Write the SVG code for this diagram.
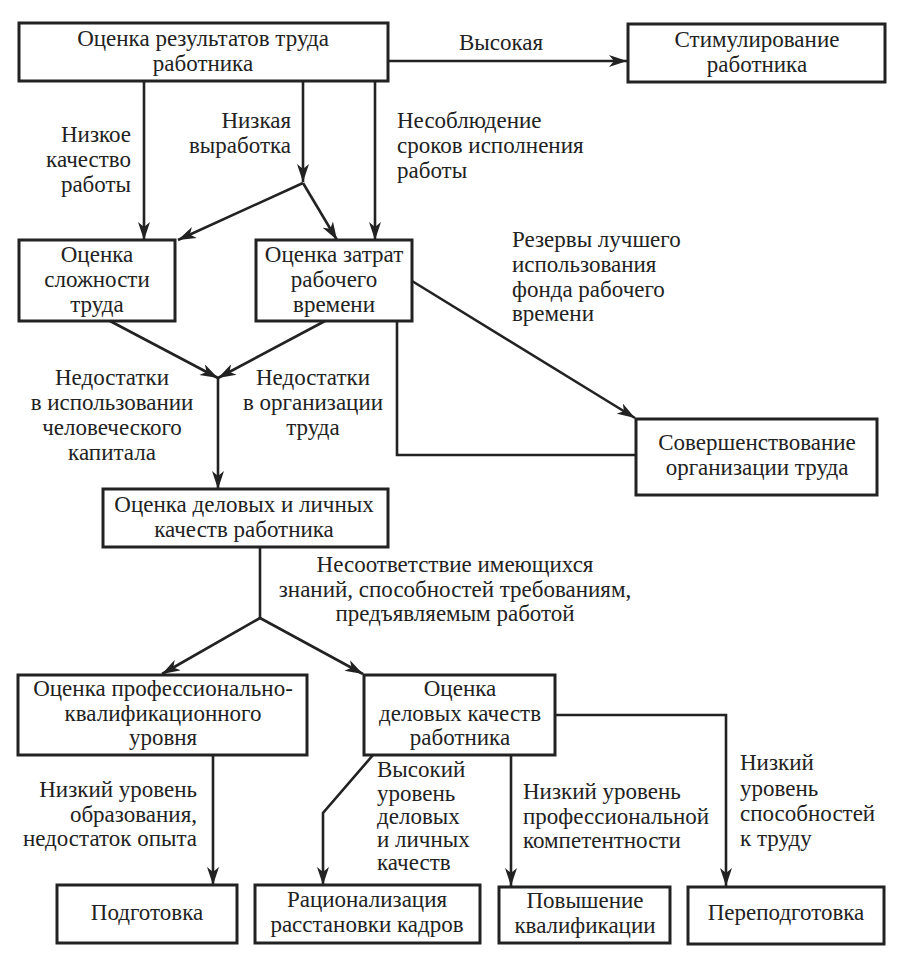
<svg xmlns="http://www.w3.org/2000/svg" width="911" height="971" viewBox="0 0 911 971">
<defs>
<marker id="arr" viewBox="0 0 18 12" refX="18" refY="6" markerWidth="18" markerHeight="12" markerUnits="userSpaceOnUse" orient="auto">
<path d="M0,0 L18,6 L0,12 L5,6 z" fill="#222"/>
</marker>
</defs>
<rect width="911" height="971" fill="#fff"/>
<g id="connectors">
<g fill="none" stroke="#222" stroke-width="2.6">
<path marker-end="url(#arr)" d="M388,61 L627,61"/>
<path marker-end="url(#arr)" d="M144,81 L144,240"/>
<path marker-end="url(#arr)" d="M303,81 L303,182"/>
<path marker-end="url(#arr)" d="M303,183 L178,240"/>
<path marker-end="url(#arr)" d="M303,183 L337,240"/>
<path marker-end="url(#arr)" d="M375,81 L375,240"/>
<path marker-end="url(#arr)" d="M412,281 L635,418"/>
<path d="M397,321 L397,455 L636,455"/>
<path marker-end="url(#arr)" d="M110,321 L218,378"/>
<path marker-end="url(#arr)" d="M325,321 L218,378"/>
<path marker-end="url(#arr)" d="M218,378 L218,489"/>
<path d="M260,547 L260,618"/>
<path marker-end="url(#arr)" d="M260,618 L162,674"/>
<path marker-end="url(#arr)" d="M260,618 L363,674"/>
<path marker-end="url(#arr)" d="M213,755 L213,885"/>
<path marker-end="url(#arr)" d="M373,755 L323,813 L323,885"/>
<path marker-end="url(#arr)" d="M511,755 L511,886"/>
<path marker-end="url(#arr)" d="M555,715 L726,715 L726,886"/>
</g>
<g fill="#222" font-size="23" font-family="Liberation Serif, serif">
<text text-anchor="middle" x="501" y="50">Высокая</text>
<text text-anchor="end" x="131" y="142">Низкое</text>
<text text-anchor="end" x="131" y="167">качество</text>
<text text-anchor="end" x="131" y="192">работы</text>
<text text-anchor="end" x="291" y="128">Низкая</text>
<text text-anchor="end" x="291" y="153">выработка</text>
<text x="397" y="128">Несоблюдение</text>
<text x="397" y="153">сроков исполнения</text>
<text x="397" y="178">работы</text>
<text x="512" y="247">Резервы лучшего</text>
<text x="512" y="272">использования</text>
<text x="512" y="297">фонда рабочего</text>
<text x="512" y="321">времени</text>
<text text-anchor="middle" x="112" y="385">Недостатки</text>
<text text-anchor="middle" x="112" y="410">в использовании</text>
<text text-anchor="middle" x="112" y="435">человеческого</text>
<text text-anchor="middle" x="112" y="460">капитала</text>
<text text-anchor="middle" x="313" y="385">Недостатки</text>
<text text-anchor="middle" x="313" y="410">в организации</text>
<text text-anchor="middle" x="313" y="435">труда</text>
<text text-anchor="middle" x="455" y="572">Несоответствие имеющихся</text>
<text text-anchor="middle" x="455" y="597">знаний, способностей требованиям,</text>
<text text-anchor="middle" x="455" y="621">предъявляемым работой</text>
<text text-anchor="end" x="197" y="797">Низкий уровень</text>
<text text-anchor="end" x="197" y="822">образования,</text>
<text text-anchor="end" x="197" y="846">недостаток опыта</text>
<text x="377" y="777">Высокий</text>
<text x="377" y="801">уровень</text>
<text x="377" y="824">деловых</text>
<text x="377" y="847">и личных</text>
<text x="377" y="870">качеств</text>
<text x="523" y="799">Низкий уровень</text>
<text x="523" y="824">профессиональной</text>
<text x="523" y="848">компетентности</text>
<text x="740" y="770">Низкий</text>
<text x="740" y="796">уровень</text>
<text x="740" y="821">способностей</text>
<text x="740" y="846">к труду</text>
</g>
</g>
<g id="nodes" font-size="23" fill="#222" font-family="Liberation Serif, serif">
<g id="n1">
<rect x="19" y="23" width="369" height="58" fill="#fff" stroke="#222" stroke-width="3"/>
<text text-anchor="middle" x="203" y="46">Оценка результатов труда</text>
<text text-anchor="middle" x="203" y="71">работника</text>
</g>
<g id="n2">
<rect x="628" y="24" width="257" height="58" fill="#fff" stroke="#222" stroke-width="3"/>
<text text-anchor="middle" x="757" y="47">Стимулирование</text>
<text text-anchor="middle" x="757" y="72">работника</text>
</g>
<g id="n3">
<rect x="19" y="240" width="156" height="81" fill="#fff" stroke="#222" stroke-width="3"/>
<text text-anchor="middle" x="97" y="262">Оценка</text>
<text text-anchor="middle" x="97" y="287">сложности</text>
<text text-anchor="middle" x="97" y="312">труда</text>
</g>
<g id="n4">
<rect x="256" y="240" width="156" height="81" fill="#fff" stroke="#222" stroke-width="3"/>
<text text-anchor="middle" x="334" y="262">Оценка затрат</text>
<text text-anchor="middle" x="334" y="287">рабочего</text>
<text text-anchor="middle" x="334" y="312">времени</text>
</g>
<g id="n5">
<rect x="636" y="419" width="241" height="76" fill="#fff" stroke="#222" stroke-width="3"/>
<text text-anchor="middle" x="757" y="450">Совершенствование</text>
<text text-anchor="middle" x="757" y="475">организации труда</text>
</g>
<g id="n6">
<rect x="103" y="489" width="285" height="58" fill="#fff" stroke="#222" stroke-width="3"/>
<text text-anchor="middle" x="244" y="512">Оценка деловых и личных</text>
<text text-anchor="middle" x="244" y="537">качеств работника</text>
</g>
<g id="n7">
<rect x="18" y="675" width="289" height="80" fill="#fff" stroke="#222" stroke-width="3"/>
<text text-anchor="middle" x="163" y="696">Оценка профессионально-</text>
<text text-anchor="middle" x="163" y="721">квалификационного</text>
<text text-anchor="middle" x="163" y="745">уровня</text>
</g>
<g id="n8">
<rect x="364" y="675" width="191" height="80" fill="#fff" stroke="#222" stroke-width="3"/>
<text text-anchor="middle" x="460" y="696">Оценка</text>
<text text-anchor="middle" x="460" y="721">деловых качеств</text>
<text text-anchor="middle" x="460" y="745">работника</text>
</g>
<g id="n9">
<rect x="57" y="885" width="180" height="58" fill="#fff" stroke="#222" stroke-width="3"/>
<text text-anchor="middle" x="147" y="920">Подготовка</text>
</g>
<g id="n10">
<rect x="255" y="885" width="225" height="58" fill="#fff" stroke="#222" stroke-width="3"/>
<text text-anchor="middle" x="367" y="907">Рационализация</text>
<text text-anchor="middle" x="367" y="932">расстановки кадров</text>
</g>
<g id="n11">
<rect x="499" y="887" width="171" height="56" fill="#fff" stroke="#222" stroke-width="3"/>
<text text-anchor="middle" x="585" y="908">Повышение</text>
<text text-anchor="middle" x="585" y="933">квалификации</text>
</g>
<g id="n12">
<rect x="688" y="887" width="196" height="57" fill="#fff" stroke="#222" stroke-width="3"/>
<text text-anchor="middle" x="786" y="920">Переподготовка</text>
</g>
</g>
</svg>
